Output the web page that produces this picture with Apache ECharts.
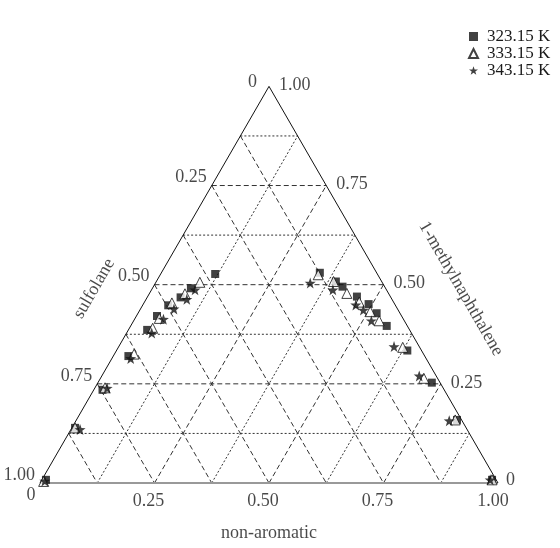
<!DOCTYPE html>
<html><head><meta charset="utf-8">
<script src="https://cdn.jsdelivr.net/npm/echarts@6/dist/echarts.min.js"></script>
<style>html,body{margin:0;padding:0;background:#fff}#c{width:560px;height:548px}</style>
</head><body><div id="c"></div>
<script>
// ternary tick values and labels
const tickValues = [0, 0.25, 0.5, 0.75, 1];
const tickLabels = ['0', '0.25', '0.50', '0.75', '1.00'];
const gridSteps = [1, 2, 3, 4, 5, 6, 7]; // eighths
const seriesNames = ['323.15 K', '333.15 K', '343.15 K'];
// mass fractions: non-aromatic (N) and 1-methylnaphthalene (M); sulfolane = 1 - N - M
const nonAromatic323 = [0.119, 0.084, 0.073, 0.056, 0.045, 0.041, 0.033, 0.019, 0.007, 0.009, 0.346, 0.392, 0.413, 0.457, 0.492, 0.521, 0.559, 0.635, 0.729, 0.831, 0.983];
const methylNaph323  = [0.527, 0.491, 0.468, 0.448, 0.421, 0.386, 0.320, 0.235, 0.139, 0.008, 0.530, 0.508, 0.495, 0.470, 0.451, 0.428, 0.396, 0.334, 0.253, 0.159, 0.008];
const nonAromatic333 = [0.096, 0.078, 0.061, 0.053, 0.051, 0.043, 0.022, 0.007, 0.006, 0.345, 0.387, 0.431, 0.469, 0.505, 0.536, 0.621, 0.706, 0.827, 0.983];
const methylNaph333  = [0.506, 0.477, 0.454, 0.415, 0.390, 0.325, 0.240, 0.139, 0.004, 0.525, 0.508, 0.478, 0.456, 0.432, 0.409, 0.342, 0.264, 0.159, 0.008];
const nonAromatic343 = [0.095, 0.089, 0.073, 0.063, 0.055, 0.041, 0.027, 0.020, 0.008, 0.338, 0.396, 0.465, 0.488, 0.519, 0.601, 0.693, 0.815, 0.979];
const methylNaph343  = [0.487, 0.463, 0.439, 0.413, 0.378, 0.314, 0.239, 0.135, 0.005, 0.504, 0.487, 0.449, 0.436, 0.409, 0.344, 0.270, 0.157, 0.008];

const FONT = 'Liberation Serif';
const TXT = '#1a1a1a';
// ternary (N, M) -> cartesian in axis units
function tern(n, m) { return [n + m / 2, m]; }
function pts(ns, ms) { return ns.map((n, i) => tern(n, ms[i])); }
// screen offset -> label offset in the rotated frame
function rotOff(sx, sy, deg) {
  const r = deg * Math.PI / 180, c = Math.cos(r), s = Math.sin(r);
  return [sx * c - sy * s, sx * s + sy * c];
}

const starPath = 'path://M0,-10L2.35,-3.24L9.51,-3.09L3.8,1.24L5.88,8.09L0,4L-5.88,8.09L-3.8,1.24L-9.51,-3.09L-2.35,-3.24Z';
const DASH = [5, 3], DOT = [2, 2];

const series = [];
function seg(a, b, type, color, width) {
  series.push({type: 'line', data: [a, b], symbol: 'none', silent: true, z: 1,
    lineStyle: {color: color || '#333', width: width || 1, type: type}, animation: false});
}
// grid lines
gridSteps.forEach(k => {
  const v = k / 8;
  const major = k % 2 === 0;
  // constant M (horizontal)
  seg(tern(0, v), tern(1 - v, v), major ? DASH : DOT);
  // constant N ("/")
  seg(tern(v, 0), tern(v, 1 - v), major ? DASH : DOT);
  // constant S ("\")
  seg(tern(0, 1 - v), tern(1 - v, 0), DASH);
});
// triangle outline
seg(tern(0, 0), tern(1, 0), 'solid', '#999', 2);
seg(tern(0, 0), tern(0, 1), 'solid', '#111', 1);
seg(tern(1, 0), tern(0, 1), 'solid', '#111', 1);

// data series
series.push({name: seriesNames[0], type: 'scatter', symbol: 'rect', symbolSize: 8, z: 3,
  itemStyle: {color: '#111'}, data: pts(nonAromatic323, methylNaph323)});
series.push({name: seriesNames[1], type: 'scatter', symbol: 'triangle', symbolSize: 10, z: 4,
  itemStyle: {color: '#fff', borderColor: '#111', borderWidth: 1}, data: pts(nonAromatic333, methylNaph333)});
series.push({name: seriesNames[2], type: 'scatter', symbol: starPath, symbolSize: 11, z: 5,
  itemStyle: {color: '#111'}, data: pts(nonAromatic343, methylNaph343)});

// tick labels
const lab = [];
const lblStyle = {show: true, fontFamily: FONT, fontSize: 18, color: TXT};
tickValues.forEach((v, i) => {
  // bottom (non-aromatic)
  let off = i === 0 ? [-9, 12] : [-6, 18];
  if (i === 4) off = [-5, 18];
  lab.push({value: tern(v, 0), label: Object.assign({}, lblStyle, {formatter: tickLabels[i], position: 'inside', offset: off})});
  // left (sulfolane): S = v at N = 0, M = 1 - v
  lab.push({value: tern(0, 1 - v), label: Object.assign({}, lblStyle, {formatter: tickLabels[i], position: 'left', distance: i === 0 ? 12 : 5, offset: i === 0 ? [0, -4] : [0, -8]})});
  // right (1-methylnaphthalene): M = v at S = 0
  lab.push({value: tern(1 - v, v), label: Object.assign({}, lblStyle, {formatter: tickLabels[i], position: 'right', distance: i === 0 ? 8 : 10, offset: i === 0 ? [0, -3] : [0, -1]})});
});
// axis titles
lab.push({value: tern(0.5, 0), label: Object.assign({}, lblStyle, {formatter: 'non-aromatic', position: 'inside', offset: [0, 50]})});
lab.push({value: tern(0, 0.49), label: Object.assign({}, lblStyle, {formatter: 'sulfolane', position: 'inside', offset: rotOff(-58, 0, 60), rotate: 60})});
lab.push({value: tern(0.51, 0.49), label: Object.assign({}, lblStyle, {formatter: '1-methylnaphthalene', position: 'inside', offset: rotOff(75, 0, -60), rotate: -60})});
series.push({type: 'scatter', symbolSize: 0, silent: true, clip: false, z: 6, data: lab, animation: false});

const chart = echarts.init(document.getElementById('c'), null, {renderer: 'canvas'});
chart.setOption({
  animation: false,
  backgroundColor: '#fff',
  grid: {left: 40, top: 483 - 458 * Math.sqrt(3) / 2, width: 458, height: 458 * Math.sqrt(3) / 2},
  xAxis: {type: 'value', min: 0, max: 1, show: false},
  yAxis: {type: 'value', min: 0, max: 1, show: false},
  legend: {
    data: seriesNames, orient: 'vertical', left: 463, top: 23, itemWidth: 9, itemHeight: 9, itemGap: 0,
    textStyle: {fontFamily: FONT, fontSize: 17, color: TXT, padding: [0, 0, 0, 4]}
  },
  series: series
});
</script></body></html>
